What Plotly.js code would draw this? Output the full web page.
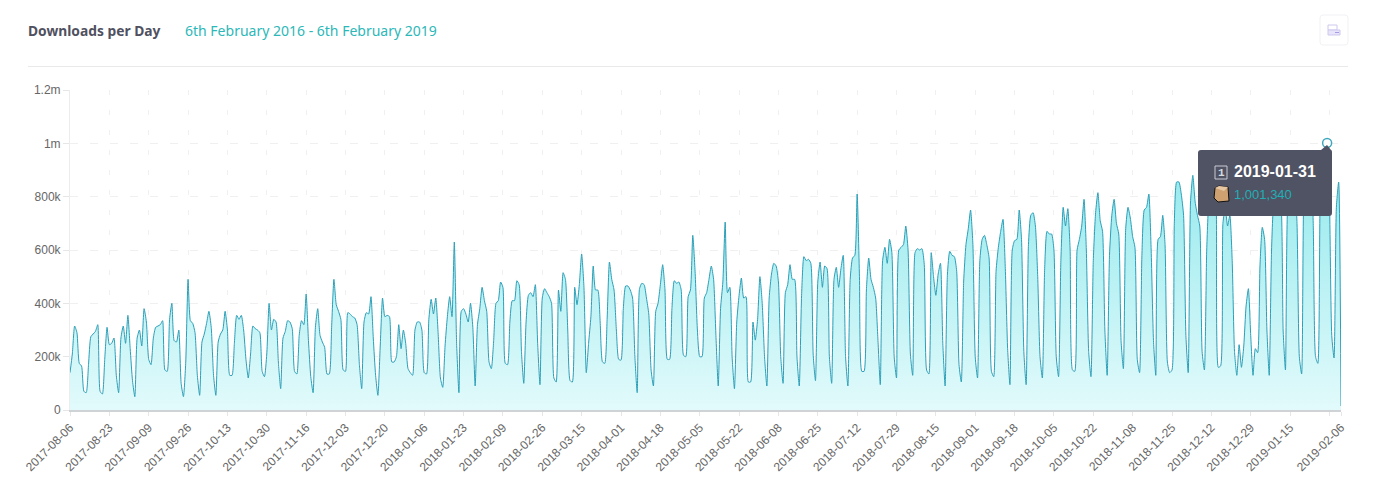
<!DOCTYPE html>
<html>
<head>
<meta charset="utf-8">
<script src="https://cdn.plot.ly/plotly-3.0.1.min.js"></script>
<style>html,body{margin:0;padding:0;background:#fff}#chart{width:1382px;height:493px}</style>
</head>
<body>
<div id="chart"></div>
<script>
const startDate = '2017-08-06';
const downloadsK = [
140,210,315,290,175,165,70,
65,170,275,285,295,320,70,
60,190,310,245,250,270,130,
65,270,315,250,355,230,110,
50,270,300,240,380,330,190,
170,270,310,315,320,335,150,
145,340,400,260,255,300,100,
50,180,490,335,325,290,130,
55,255,285,325,370,310,130,
55,255,285,300,370,300,130,
130,250,355,340,355,300,190,
120,210,315,305,300,290,145,
125,210,400,300,340,330,180,
80,270,295,335,330,305,145,
135,280,335,320,435,260,125,
65,310,380,280,255,235,135,
135,310,490,395,370,340,150,
145,365,360,350,345,320,170,
80,330,365,360,425,270,130,
55,240,420,350,355,350,180,
180,200,320,230,300,250,155,
140,130,300,330,330,300,140,
135,340,415,360,420,290,120,
85,240,350,425,350,630,250,
65,370,380,360,330,400,310,
90,320,380,460,410,370,180,
155,260,400,410,480,460,175,
170,330,410,410,485,470,220,
100,330,430,440,425,470,250,
95,420,455,440,425,400,120,
105,450,370,515,490,300,110,
105,460,395,470,585,460,140,
250,350,540,450,450,330,180,
175,340,555,490,450,300,190,
187,380,465,465,450,420,200,
65,455,475,470,420,360,150,
90,370,400,470,545,450,190,
190,380,485,475,480,450,205,
200,425,450,655,520,300,200,
200,420,440,490,540,490,280,
90,380,480,705,440,460,200,
80,330,430,495,420,425,105,
105,330,262,340,500,400,200,
90,420,510,550,540,480,200,
100,440,470,545,490,490,200,
90,430,575,560,565,550,210,
110,480,555,460,540,530,200,
100,490,535,460,530,580,200,
90,490,570,580,810,500,145,
145,450,570,490,460,420,260,
95,560,610,550,640,590,200,
120,600,610,620,690,600,210,
130,590,605,600,605,545,150,
135,590,500,430,510,550,250,
90,510,595,580,575,520,170,
105,480,620,680,750,620,200,
120,560,640,655,620,570,145,
125,520,610,670,715,530,230,
95,600,635,640,750,640,220,
95,620,730,740,690,500,200,
120,530,670,660,660,600,200,
125,560,760,690,755,600,150,
145,600,640,690,790,600,220,
125,560,740,815,710,670,300,
130,580,730,790,700,660,260,
155,680,760,720,650,610,190,
140,580,750,760,810,600,260,
130,640,650,730,620,180,140,
150,700,855,855,810,730,280,
140,780,880,780,730,690,220,
150,600,790,820,830,790,160,
165,700,760,690,730,560,220,
130,245,160,240,390,455,280,
130,230,215,540,685,640,300,
130,600,780,800,800,780,300,
150,770,810,810,850,700,200,
135,820,880,900,900,700,200,
175,780,900,950,1001.34,800,280,
195,760,855,15
];
const xTickDates = ['2017-08-06','2017-08-23','2017-09-09','2017-09-26','2017-10-13','2017-10-30','2017-11-16','2017-12-03','2017-12-20','2018-01-06','2018-01-23','2018-02-09','2018-02-26','2018-03-15','2018-04-01','2018-04-18','2018-05-05','2018-05-22','2018-06-08','2018-06-25','2018-07-12','2018-07-29','2018-08-15','2018-09-01','2018-09-18','2018-10-05','2018-10-22','2018-11-08','2018-11-25','2018-12-12','2018-12-29','2019-01-15','2019-02-01','2019-02-06'];
const xTickLabels = xTickDates.map(d => d === '2019-02-01' ? '' : d);
const yTickValues = [0,200000,400000,600000,800000,1000000,1200000];
const yTickLabels = ['0','200k','400k','600k','800k','1m','1.2m'];
const highlightDate = '2019-01-31';
const highlightValue = 1001340;

const dates = downloadsK.map((_, i) => {
  const d = new Date(startDate + 'T00:00:00Z');
  d.setUTCDate(d.getUTCDate() + i);
  return d.toISOString().slice(0, 10);
});
const values = downloadsK.map(v => v * 1000);

const L = 70, R = 1341, T = 90, B = 410;
const px = x => (x - L) / (R - L);
const py = y => (B - y) / (B - T);
const pageText = (text, x, y, size, color, family, anchor) => ({
  text, xref: 'paper', yref: 'paper', x: px(x), y: py(y), showarrow: false,
  xanchor: anchor || 'left', yanchor: 'middle',
  font: {size, color, family: family || 'Liberation Sans, Arial, sans-serif'}
});
const pageRect = (x0, y0, x1, y1, fill, line, width) => ({
  type: 'rect', xref: 'paper', yref: 'paper', x0: px(x0), x1: px(x1), y0: py(y0), y1: py(y1),
  fillcolor: fill, line: {color: line || fill, width: width === undefined ? 1 : width}, layer: 'above'
});
const pagePath = (pts, fill, line, width) => ({
  type: 'path', xref: 'paper', yref: 'paper',
  path: 'M' + pts.map(p => px(p[0]) + ',' + py(p[1])).join('L') + 'Z',
  fillcolor: fill, line: {color: line || fill, width: width === undefined ? 1 : width}, layer: 'above'
});

const traces = [
  {
    type: 'scatter', mode: 'lines', x: dates, y: values, fill: 'tozeroy',
    line: {color: '#2b9fb8', width: 1, shape: 'spline', smoothing: 0.55},
    fillgradient: {type: 'vertical', start: 1000000, stop: 0,
      colorscale: [[0, '#8fe8ec'], [1, '#e2fafb']]},
    hoverinfo: 'x+y'
  },
  {
    type: 'scatter', mode: 'markers', x: [highlightDate], y: [highlightValue],
    marker: {size: 9, color: '#ffffff', line: {color: '#3fa7bd', width: 1.5}},
    hoverinfo: 'skip'
  }
];

const layout = {
  width: 1382, height: 493, showlegend: false,
  paper_bgcolor: '#fff', plot_bgcolor: '#fff',
  margin: {l: L, r: 1382 - R, t: T, b: 493 - B, pad: 0},
  font: {family: 'Liberation Sans, Arial, sans-serif', size: 12, color: '#666'},
  xaxis: {
    type: 'date', range: [startDate, '2019-02-06'],
    tickmode: 'array', tickvals: xTickDates, ticktext: xTickLabels, tickangle: -45,
    tickfont: {size: 12, color: '#666'}, ticks: 'outside', ticklen: 4, tickcolor: '#e6e6e6',
    showgrid: true, gridcolor: '#f0f0f0', griddash: '5px,15px', gridwidth: 1,
    showline: true, linecolor: '#cfd3d6', linewidth: 2, zeroline: false, automargin: false
  },
  yaxis: {
    range: [0, 1200000], tickmode: 'array', tickvals: yTickValues, ticktext: yTickLabels,
    tickfont: {size: 12, color: '#666'}, ticks: 'outside', ticklen: 6, tickcolor: '#e6e6e6',
    showgrid: true, gridcolor: '#f0f0f0', griddash: '8px,12px', gridwidth: 1,
    showline: true, linecolor: '#ececec', linewidth: 1, zeroline: false, automargin: false
  },
  shapes: [
    {type: 'line', xref: 'paper', yref: 'paper', x0: px(28), x1: px(1348), y0: py(66.5), y1: py(66.5),
     line: {color: '#e9e9ec', width: 1}, layer: 'above'},
    {type: 'path', xref: 'paper', yref: 'paper', layer: 'above', fillcolor: '#ffffff',
     line: {color: '#f1f1f6', width: 1},
     path: 'M' + px(1323) + ',' + py(15) + 'L' + px(1345) + ',' + py(15) +
       'Q' + px(1348) + ',' + py(15) + ' ' + px(1348) + ',' + py(18) +
       'L' + px(1348) + ',' + py(42) + 'Q' + px(1348) + ',' + py(45) + ' ' + px(1345) + ',' + py(45) +
       'L' + px(1323) + ',' + py(45) + 'Q' + px(1320) + ',' + py(45) + ' ' + px(1320) + ',' + py(42) +
       'L' + px(1320) + ',' + py(18) + 'Q' + px(1320) + ',' + py(15) + ' ' + px(1323) + ',' + py(15) + 'Z'},
    pageRect(1328, 25, 1337, 30, '#ffffff', '#cfc8ef', 1),
    pageRect(1328, 30, 1340, 35, '#e8e4fa', '#cfc8ef', 1),
    pageRect(1335, 32, 1339, 33, '#a79ae6', '#a79ae6', 0),
    {type: 'path', xref: 'paper', yref: 'paper', layer: 'above', fillcolor: '#505364',
     line: {color: '#505364', width: 0},
     path: 'M' + px(1201) + ',' + py(150) + 'L' + px(1321) + ',' + py(150) +
       'L' + px(1327) + ',' + py(145) + 'L' + px(1331) + ',' + py(150) +
       'Q' + px(1332) + ',' + py(150) + ' ' + px(1332) + ',' + py(152) +
       'L' + px(1332) + ',' + py(213) + 'Q' + px(1332) + ',' + py(216) + ' ' + px(1329) + ',' + py(216) +
       'L' + px(1201) + ',' + py(216) + 'Q' + px(1198) + ',' + py(216) + ' ' + px(1198) + ',' + py(213) +
       'L' + px(1198) + ',' + py(153) + 'Q' + px(1198) + ',' + py(150) + ' ' + px(1201) + ',' + py(150) + 'Z'},
    pageRect(1215, 166, 1227, 179, 'rgba(0,0,0,0)', '#c9cbd3', 1),
    pagePath([[1215,188],[1219,186],[1228,187],[1229,201],[1218,202],[1214,198]], '#cfa070', '#111111', 1),
    pagePath([[1215,188],[1219,186],[1228,187],[1224,191]], '#e6c7a4', '#e6c7a4', 0)
  ],
  annotations: [
    pageText('<b>Downloads per Day</b>', 26, 30, 13.8, '#50515f', 'Noto Sans, sans-serif'),
    pageText('6th February 2016 - 6th February 2019', 183, 30, 14, '#2cb8b8', 'Noto Sans, sans-serif'),
    pageText('<b>2019-01-31</b>', 1232, 171, 16, '#ffffff'),
    pageText('1,001,340', 1232, 194, 13, '#21aeb4'),
    pageText('<b>1</b>', 1221, 172.5, 11, '#d8dae0', 'Liberation Mono, monospace', 'center')
  ]
};

Plotly.newPlot('chart', traces, layout, {displayModeBar: false, responsive: false});
</script>
</body>
</html>
